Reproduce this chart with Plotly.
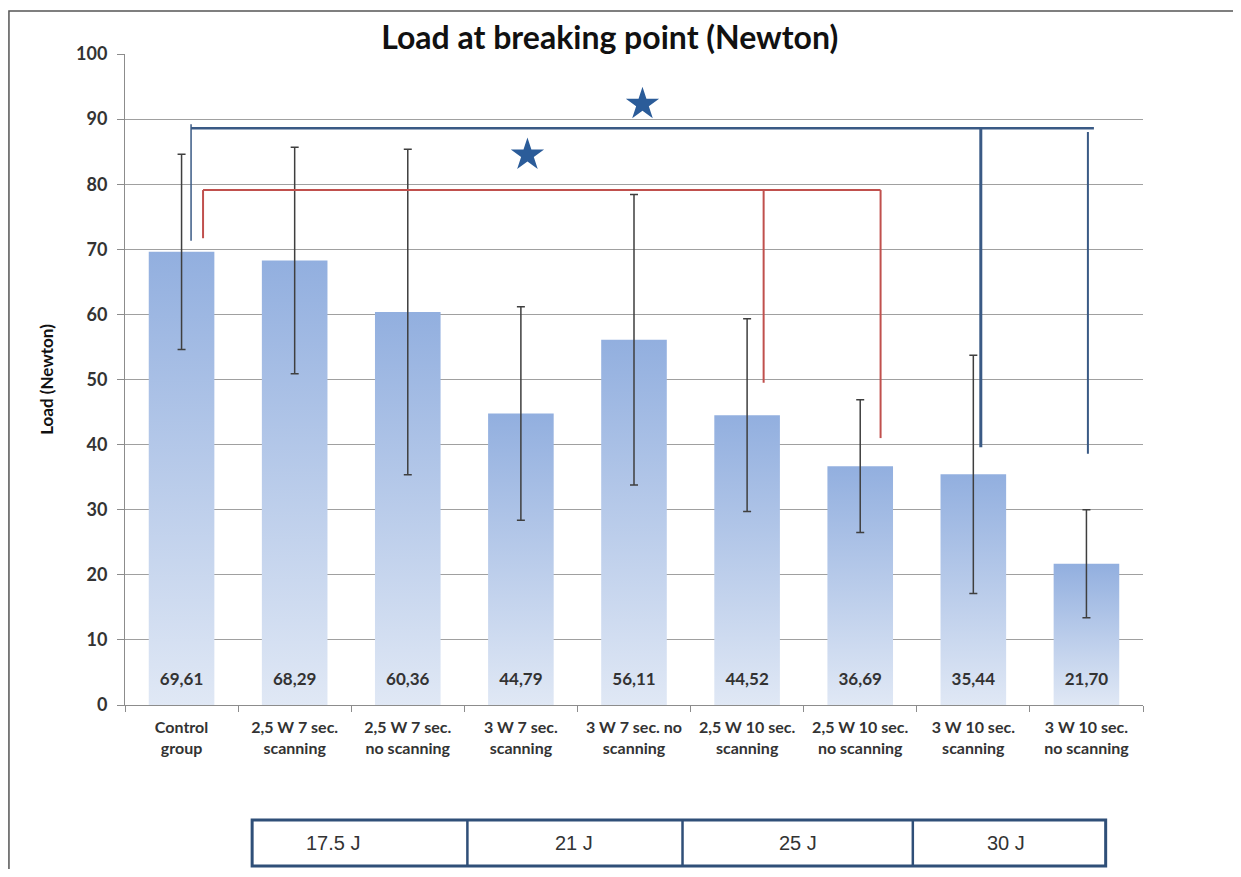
import plotly.graph_objects as go

categories = ["Control<br>group", "2,5 W 7 sec.<br>scanning", "2,5 W 7 sec.<br>no scanning",
              "3 W 7 sec.<br>scanning", "3 W 7 sec. no<br>scanning", "2,5 W 10 sec.<br>scanning",
              "2,5 W 10 sec.<br>no scanning", "3 W 10 sec.<br>scanning", "3 W 10 sec.<br>no scanning"]
values = [69.61, 68.29, 60.36, 44.79, 56.11, 44.52, 36.69, 35.44, 21.70]
errors = [15.0, 17.4, 25.0, 16.4, 22.3, 14.8, 10.2, 18.3, 8.3]
value_labels = ["69,61", "68,29", "60,36", "44,79", "56,11", "44,52", "36,69", "35,44", "21,70"]
energy_labels = ["17.5 J", "21 J", "25 J", "30 J"]

FONT = "Lato, 'Open Sans', sans-serif"
TXT = "#333333"
BLUE = "#3a5a85"
RED = "#c0504d"
half_w = 0.29

fig = go.Figure()
xs = list(range(len(values)))

# bars with vertical gradient
for i, v in zip(xs, values):
    fig.add_trace(go.Scatter(
        x=[i - half_w, i + half_w, i + half_w, i - half_w, i - half_w],
        y=[0, 0, v, v, 0],
        mode="lines", line=dict(width=0), fill="toself",
        fillgradient=dict(type="vertical",
                          colorscale=[[0, "#e0e8f5"], [1, "#92afdf"]]),
        hoverinfo="skip", showlegend=False))

# error bars
fig.add_trace(go.Scatter(
    x=xs, y=values, mode="markers", marker=dict(size=1, opacity=0),
    error_y=dict(type="data", array=errors, visible=True, color="#3f3f3f",
                 thickness=1.5, width=4),
    showlegend=False, hoverinfo="skip"))

# value labels
fig.add_trace(go.Scatter(
    x=xs, y=[3.7] * len(xs), mode="text", text=value_labels,
    textfont=dict(family=FONT, size=17, color=TXT, weight="bold"),
    showlegend=False, hoverinfo="skip"))

# significance stars
fig.add_trace(go.Scatter(
    x=[4.075, 3.058], y=[92.3, 84.5], mode="markers",
    marker=dict(symbol="star", size=25, color="#2b5c99"),
    showlegend=False, hoverinfo="skip"))

shapes = []
# blue bracket
for x0, y0, x1, y1, w in [(0.084, 71.3, 0.084, 89.2, 1.5),
                          (0.084, 88.6, 8.066, 88.6, 2.5),
                          (7.066, 88.6, 7.066, 39.6, 3),
                          (8.013, 88.0, 8.013, 38.6, 2)]:
    shapes.append(dict(type="line", xref="x", yref="y", x0=x0, y0=y0, x1=x1, y1=y1,
                       line=dict(color=BLUE, width=w)))
# red bracket
for x0, y0, x1, y1 in [(0.19, 71.7, 0.19, 79.1), (0.19, 79.1, 6.18, 79.1),
                       (5.146, 79.1, 5.146, 49.5), (6.18, 79.1, 6.18, 41.0)]:
    shapes.append(dict(type="line", xref="x", yref="y", x0=x0, y0=y0, x1=x1, y1=y1,
                       line=dict(color=RED, width=2)))

# energy box below the chart
box_y0, box_y1 = -0.2473, -0.1767
shapes.append(dict(type="rect", xref="x", yref="paper", x0=0.624, x1=8.17, y0=box_y0, y1=box_y1,
                   line=dict(color="#2f4f78", width=3), fillcolor="rgba(0,0,0,0)"))
for xd in [2.527, 4.429, 6.465]:
    shapes.append(dict(type="line", xref="x", yref="paper", x0=xd, x1=xd, y0=box_y0, y1=box_y1,
                       line=dict(color="#2f4f78", width=2.5)))
# outer frame
shapes.append(dict(type="rect", xref="paper", yref="paper", x0=-0.114, x1=1.0894, y0=-0.30, y1=1.066,
                   line=dict(color="#555555", width=1.5), fillcolor="rgba(0,0,0,0)"))

annotations = []
for lbl, xc in zip(energy_labels, [1.34, 3.47, 5.45, 7.29]):
    annotations.append(dict(text=lbl, x=xc, y=(box_y0 + box_y1) / 2, xref="x", yref="paper",
                            xanchor="center", yanchor="middle", showarrow=False,
                            font=dict(family="'Liberation Sans Narrow', 'Liberation Sans', sans-serif",
                                      size=20, color=TXT)))

fig.update_layout(
    width=1233, height=861,
    margin=dict(l=117, r=98, t=46, b=164),
    paper_bgcolor="white", plot_bgcolor="white",
    title=dict(text="Load at breaking point (Newton)", x=0.488, xanchor="center",
               y=0.965, yanchor="middle",
               font=dict(family=FONT, size=32, color="#111111", weight="bold")),
    xaxis=dict(range=[-0.5, 8.5], tickvals=xs, ticktext=categories,
               showgrid=False, zeroline=False, showline=True, linecolor="#8c8c8c", linewidth=1,
               ticks="", ticklabelstandoff=8,
               tickfont=dict(family=FONT, size=16, color=TXT, weight="bold"),
               minor=dict(tick0=0.5, dtick=1, ticks="outside", ticklen=6, tickcolor="#8c8c8c",
                          showgrid=False)),
    yaxis=dict(range=[0, 100], dtick=10, showgrid=True, gridcolor="#a0a0a0", gridwidth=1,
               zeroline=False, showline=True, linecolor="#8c8c8c", linewidth=1,
               ticks="outside", ticklen=7, tickcolor="#8c8c8c", ticklabelstandoff=6,
               tickfont=dict(family=FONT, size=18, color=TXT, weight="bold"),
               title=dict(text="Load (Newton)", standoff=18,
                          font=dict(family=FONT, size=17, color="#111111", weight="bold"))),
    shapes=shapes, annotations=annotations,
)

fig.write_html("out.html")
